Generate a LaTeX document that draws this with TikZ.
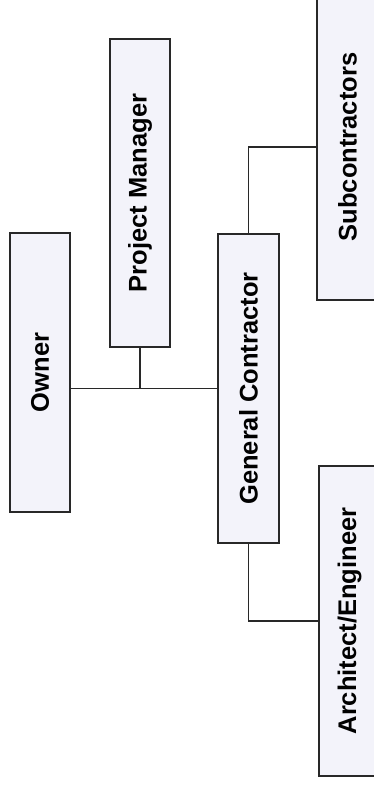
\documentclass[tikz,border=0pt]{standalone}
\usepackage{xcolor}
\usepackage{fontspec}
\setmainfont{Liberation Sans}
\definecolor{boxfill}{RGB}{243,243,250}
\definecolor{boxline}{RGB}{40,40,40}

\begin{document}
\begin{tikzpicture}[
    x=1pt, y=-1pt,
    orgbox/.style={draw=boxline, line width=1.6pt, fill=boxfill, rotate=90,
        inner sep=0pt, minimum height=61pt,
        font=\fontsize{25.5}{30}\selectfont\bfseries},
    link/.style={draw=boxline, line width=1.1pt}
]
    % --- page frame ---
    \useasboundingbox (0,0) rectangle (374,792);
    \clip (0,0) rectangle (374,792);

    % --- boxes (turned on their side) ---
    \node[orgbox, minimum width=279pt, minimum height=60pt] (owner) at (40,372.5) {Owner};
    \node[orgbox, minimum width=308pt, minimum height=60pt] (pm) at (140,193) {Project Manager};
    \node[orgbox, minimum width=309pt] (gc) at (248.5,388.5) {General Contractor};
    \node[orgbox, minimum width=306pt] (sub) at (347.5,147) {Subcontractors};
    \node[orgbox, minimum width=310pt] (ae) at (349.5,621) {Architect/Engineer};

    % --- connectors ---
    \draw[link] (gc.north) -- (gc.north -| owner.south);
    \draw[link] (pm.west) -- (pm.west |- gc.north);
    \draw[link] (gc.east) |- (sub.north);
    \draw[link] (gc.west) |- (ae.north);

\end{tikzpicture}
\end{document}
